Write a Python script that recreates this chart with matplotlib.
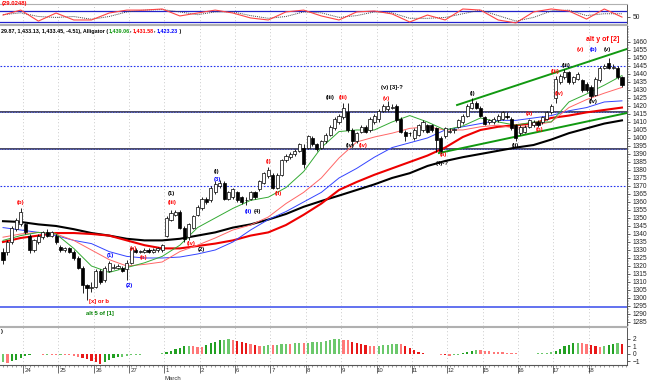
import matplotlib
matplotlib.use("Agg")
import matplotlib.pyplot as plt
from matplotlib.ticker import MultipleLocator, FixedLocator

plt.rcParams['font.family'] = ['Liberation Sans', 'DejaVu Sans']

# hourly candles: 5 bars before the first date, then 8 bars per session
opens = [1329, 1329, 1335, 1343, 1346,
         1346, 1339, 1330, 1335, 1338, 1341, 1339, 1339,
         1332, 1330, 1331, 1329, 1325, 1319, 1308, 1306,
         1307, 1317, 1311, 1317, 1319, 1319, 1319, 1318,
         1322, 1330, 1329, 1329, 1330, 1329, 1330, 1330,
         1339, 1349, 1352, 1354, 1344, 1338, 1344, 1352,
         1356, 1362, 1361, 1366, 1370, 1372, 1362, 1363,
         1366, 1363, 1361, 1362, 1366, 1368, 1372, 1376,
         1377, 1369, 1377, 1386, 1388, 1390, 1392, 1394,
         1394, 1400, 1396, 1394, 1398, 1402, 1406, 1410,
         1413, 1416, 1405, 1398, 1404, 1407, 1405, 1410,
         1412, 1417, 1418, 1419, 1420, 1412, 1404, 1403,
         1400, 1402, 1405, 1408, 1408, 1406, 1400, 1401,
         1404, 1405, 1407, 1410, 1414, 1419, 1422, 1419,
         1413, 1410, 1410, 1411, 1412, 1414, 1412, 1408,
         1403, 1404, 1407, 1408, 1410, 1410, 1412, 1416,
         1425, 1435, 1438, 1441, 1435, 1437, 1436, 1434,
         1432, 1427, 1436, 1444, 1447, 1444, 1444, 1438]
highs = [1331, 1336, 1345, 1350, 1356,
         1347, 1340, 1337, 1340, 1342, 1343, 1342, 1340,
         1333, 1332, 1332, 1330, 1326, 1320, 1309, 1310,
         1318, 1318, 1320, 1323, 1321, 1321, 1320, 1324,
         1332, 1331, 1330, 1331, 1331, 1331, 1332, 1334,
         1351, 1355, 1355, 1355, 1345, 1347, 1352, 1358,
         1363, 1363, 1370, 1373, 1374, 1373, 1367, 1369,
         1367, 1364, 1363, 1367, 1367, 1374, 1379, 1382,
         1378, 1378, 1387, 1390, 1391, 1393, 1397, 1396,
         1402, 1401, 1397, 1399, 1403, 1408, 1413, 1415,
         1422, 1422, 1406, 1404, 1408, 1408, 1413, 1415,
         1418, 1421, 1423, 1421, 1421, 1413, 1405, 1404,
         1406, 1409, 1411, 1409, 1409, 1407, 1401, 1407,
         1406, 1406, 1412, 1415, 1421, 1425, 1423, 1420,
         1414, 1412, 1413, 1415, 1417, 1416, 1413, 1409,
         1408, 1408, 1412, 1411, 1411, 1414, 1417, 1421,
         1439, 1440, 1443, 1442, 1439, 1441, 1437, 1435,
         1433, 1438, 1445, 1446, 1450, 1446, 1445, 1439]
lows = [1321, 1327, 1334, 1342, 1345,
        1340, 1328, 1329, 1334, 1337, 1338, 1338, 1334,
        1329, 1329, 1328, 1324, 1318, 1303, 1299, 1304,
        1306, 1309, 1310, 1316, 1318, 1318, 1316, 1311,
        1321, 1328, 1328, 1328, 1328, 1328, 1329, 1329,
        1338, 1348, 1351, 1343, 1335, 1336, 1343, 1351,
        1355, 1359, 1360, 1365, 1369, 1361, 1361, 1362,
        1360, 1359, 1358, 1361, 1362, 1367, 1371, 1375,
        1368, 1368, 1376, 1385, 1387, 1389, 1391, 1381,
        1393, 1395, 1392, 1393, 1397, 1401, 1405, 1409,
        1412, 1404, 1395, 1397, 1403, 1403, 1404, 1409,
        1410, 1416, 1417, 1418, 1410, 1403, 1398, 1401,
        1399, 1401, 1404, 1403, 1404, 1391, 1390, 1400,
        1403, 1403, 1406, 1409, 1413, 1418, 1418, 1413,
        1408, 1409, 1409, 1410, 1411, 1412, 1405, 1398,
        1402, 1403, 1406, 1407, 1407, 1409, 1411, 1415,
        1422, 1434, 1437, 1434, 1434, 1436, 1429, 1429,
        1424, 1426, 1435, 1443, 1443, 1443, 1437, 1432]
closes = [1324, 1335, 1344, 1349, 1354,
          1341, 1330, 1336, 1339, 1341, 1339, 1341, 1335,
          1330, 1331, 1329, 1325, 1319, 1308, 1306, 1307,
          1317, 1310, 1319, 1322, 1319, 1320, 1317, 1322,
          1331, 1329, 1329, 1330, 1329, 1330, 1331, 1333,
          1350, 1353, 1354, 1344, 1337, 1346, 1351, 1357,
          1362, 1360, 1369, 1371, 1372, 1362, 1366, 1368,
          1361, 1360, 1361, 1366, 1363, 1373, 1378, 1380,
          1369, 1377, 1386, 1389, 1390, 1392, 1396, 1384,
          1401, 1396, 1393, 1398, 1402, 1407, 1412, 1414,
          1419, 1405, 1398, 1403, 1407, 1404, 1412, 1414,
          1417, 1420, 1420, 1419, 1411, 1404, 1401, 1403,
          1405, 1408, 1410, 1404, 1405, 1399, 1392, 1406,
          1404, 1405, 1411, 1414, 1420, 1422, 1419, 1414,
          1409, 1411, 1412, 1414, 1416, 1413, 1406, 1400,
          1407, 1407, 1411, 1410, 1408, 1413, 1416, 1420,
          1437, 1439, 1441, 1435, 1438, 1440, 1430, 1430,
          1426, 1437, 1444, 1445, 1444, 1444, 1438, 1433]

day_labels = ["24", "25", "26", "27", "1", "2", "6", "7", "8",
              "9", "10", "11", "12", "15", "16", "17", "18"]

# moving averages read every 4th bar
ma_step = 4
lips = [1336, 1339, 1341, 1340, 1331, 1320, 1316, 1319, 1322, 1326, 1333, 1344,
        1350, 1356, 1361, 1363, 1369, 1379, 1394, 1404, 1405, 1405, 1410, 1414,
        1410, 1405, 1407.5, 1412.5, 1410, 1408, 1410, 1410, 1422.5, 1427.5, 1433, 1439]
teeth = [1338, 1340, 1341, 1340, 1336, 1330, 1324, 1320, 1321, 1322.5, 1329, 1333,
         1337.5, 1342.5, 1345.6, 1350.6, 1359, 1366, 1375, 1387.5, 1397.5, 1400.6, 1403, 1406,
         1407, 1405, 1405, 1407, 1408, 1406, 1408, 1410, 1419, 1424, 1428, 1431.6]
jaw = [1344, 1342.5, 1341, 1339, 1336, 1334, 1329, 1326, 1325, 1325, 1325.6, 1327.5,
       1330, 1335, 1342.5, 1349, 1354, 1360, 1366, 1375, 1381, 1388, 1394, 1397,
       1400, 1405, 1407, 1409, 1411, 1411, 1412.5, 1414, 1417, 1419, 1422.5, 1423.2]
ma_red = [1335, 1337.5, 1339, 1340.6, 1340.6, 1340, 1339, 1336, 1333, 1331, 1331, 1332.5,
          1334, 1336, 1339, 1341, 1345.6, 1352, 1359, 1367.5, 1372.5, 1377, 1381, 1385,
          1389, 1394, 1400.6, 1405, 1407, 1408, 1409, 1412.5, 1414, 1416, 1417.5, 1419]
ma_black = [1348, 1347.5, 1346, 1345, 1343, 1340.6, 1339, 1337, 1336, 1336, 1337, 1339,
            1341, 1344, 1346, 1349, 1352.5, 1357, 1360.6, 1364, 1367.5, 1371, 1375, 1378,
            1382.5, 1385.6, 1388, 1390, 1392, 1394, 1395.6, 1399, 1403, 1406, 1409, 1411]

# stochastic panel (same sampling)
stoch_k = [58, 85, 25, 69, 31, 31, 69, 85, 85, 91, 53, 69, 85, 69, 42, 31, 75, 85,
           53, 31, 75, 80, 64, 20, 58, 31, 91, 85, 31, 15, 75, 91, 80, 36, 91, 47]
stoch_d = [60, 70, 50, 45, 50, 35, 50, 75, 85, 88, 75, 60, 75, 75, 55, 40, 50, 75,
           70, 45, 55, 75, 70, 40, 40, 45, 65, 85, 55, 25, 45, 80, 85, 55, 65, 65]

# awesome oscillator, one value per bar
ao = [-1.1, -1.2, -0.95, -0.75, -0.55, -0.3, -0.1, 0.0, -0.05, -0.1, -0.08, -0.1,
      -0.15, -0.1, -0.15, -0.2, -0.25, -0.35, -0.5, -0.7, -0.9, -1.1, -1.3, -1.1,
      -0.85, -0.6, -0.45, -0.35, -0.3, -0.2, -0.15, -0.1, -0.05, -0.02, 0.02, 0.06,
      0.12, 0.25, 0.45, 0.65, 0.85, 1.0, 1.1, 1.0, 0.95, 0.9, 1.2, 1.45,
      1.65, 1.8, 1.9, 1.95, 1.9, 1.75, 1.55, 1.4, 1.3, 1.15, 1.05, 1.1,
      1.2, 1.15, 1.2, 1.3, 1.35, 1.3, 1.4, 1.45, 1.4, 1.5, 1.55, 1.6,
      1.65, 1.75, 1.85, 1.95, 2.0, 1.9, 1.8, 1.65, 1.5, 1.35, 1.2, 1.1,
      1.0, 1.1, 1.2, 1.25, 1.3, 1.35, 1.3, 1.1, 0.85, 0.55, 0.25, 0.08,
      0.05, 0.03, 0.0, -0.08, -0.2, -0.3, -0.2, -0.1, 0.1, 0.3, 0.45, 0.55,
      0.5, 0.4, 0.35, 0.3, 0.25, 0.2, 0.15, 0.1, 0.07, 0.03, 0.05, 0.04,
      0.06, 0.08, 0.1, 0.15, 0.25, 0.45, 0.7, 1.0, 1.2, 1.4, 1.5, 1.45,
      1.35, 1.2, 1.05, 0.95, 1.05, 1.2, 1.35, 1.45, 1.3]

# horizontal levels, channel lines and the small (a)-(b) guide
dotted_levels = [1445, 1370]
double_levels = [1416.25, 1393.1]
solid_levels = [1294.4]
channel_upper = [(102.7, 1420.6), (141.1, 1455.6)]
channel_lower = [(98.6, 1390.6), (141.1, 1415.6)]
ab_guide = [(31.0, 1328.8), (36.0, 1330.6)]

# wave labels: text, bar, price, colour
wave_labels = [
    ("(b)", 3.9, 1359.4, "red"), ("[x] or b", 21.8, 1297.5, "red"),
    ("alt 5 of [1]", 22.0, 1290, "green"), ("(1)", 24.3, 1326.3, "blue"),
    ("(2)", 28.6, 1308, "blue"), ("(a)", 29.5, 1331, "red"), ("(b)", 31.8, 1325.6, "red"),
    ("(1)", 38, 1365.6, "black"), ("(iii)", 38.2, 1359.4, "red"),
    ("(iv)", 42.5, 1333.8, "red"), ("(2)", 44.8, 1330, "black"),
    ("(i)", 48.4, 1378.8, "black"), ("(3)", 48.6, 1373.8, "blue"),
    ("(ii)", 55.5, 1353.8, "blue"), ("(4)", 57.5, 1353.8, "black"),
    ("(i)", 60, 1385, "red"), ("(ii)", 62.3, 1365.6, "red"),
    ("(iii)", 73.9, 1425, "black"), ("(iii)", 77, 1425, "red"),
    ("(iv)", 78.6, 1395.6, "black"), ("(iv)", 81.4, 1395, "red"),
    ("(v) [3]-?", 88, 1431.3, "black"), ("(v)", 86.8, 1424.4, "red"),
    ("(a)", 99.5, 1389.4, "red"), ("(4)-?", 99.3, 1383.8, "black"),
    ("(i)", 106.1, 1428.1, "black"), ("(ii)", 115.9, 1395, "black"),
    ("(a)", 119.1, 1415.6, "red"), ("(b)", 121.4, 1405.6, "red"),
    ("(iii)", 124.8, 1441.3, "red"), ("(iv)", 125.9, 1428.1, "red"),
    ("(iii)", 127.3, 1445.6, "black"), ("(iv)", 133.4, 1422.5, "black"),
    ("(v)", 130.5, 1455, "red"), ("(b)", 133.6, 1455, "blue"), ("(v)", 136.6, 1455, "black"),
]

W, H = 650, 382
fig = plt.figure(figsize=(W / 100, H / 100), dpi=100)


def px_axes(top, bottom, right=627):
    return fig.add_axes([0, 1 - bottom / H, right / W, (bottom - top) / H])


ax_osc = px_axes(4, 24)
ax = px_axes(25, 326)
ax_ao = px_axes(327, 365)

n = len(closes)
bars = list(range(n))
ma_x = list(range(0, n, ma_step))
day_ticks = [5 + 8 * k for k in range(len(day_labels))]
xlim = (-0.68, 141.14)

for a in (ax_osc, ax, ax_ao):
    a.set_xlim(*xlim)
    a.set_facecolor("white")
    a.spines["left"].set_visible(False)
    for s in ("top", "bottom"):
        a.spines[s].set_color("#b0b0b0")
        a.spines[s].set_linewidth(0.8)
    a.spines["right"].set_color("#555555")
    a.spines["right"].set_linewidth(0.7)
    a.yaxis.tick_right()
    a.tick_params(axis="y", labelsize=4.8, length=2, width=0.5, pad=2, colors="#222222")
    a.tick_params(axis="x", bottom=False, labelbottom=False)
    for t in day_ticks:
        a.axvline(t - 0.5, color="#b8b8b8", lw=0.6, ls=(0, (1, 3)), zorder=0)

# --- main price panel ---
ax.set_ylim(1282.5, 1470.6)
ax.yaxis.set_major_locator(FixedLocator(list(range(1285, 1465, 5))))
ax.yaxis.set_minor_locator(MultipleLocator(1))
ax.tick_params(axis="y", which="minor", length=1, width=0.4, colors="#555555")
ax.set_yticklabels([str(v) for v in range(1285, 1465, 5)])

for lv in dotted_levels:
    ax.axhline(lv, color="#2233ee", lw=0.8, ls=(0, (1.5, 1.5)), zorder=1)
for lv in double_levels:
    ax.axhline(lv, color="#3a3a5a", lw=1.3, zorder=1)
    ax.axhline(lv, color="#6677ff", lw=0.5, ls=(0, (2, 2)), zorder=1)
for lv in solid_levels:
    ax.axhline(lv, color="#5566ee", lw=1.3, zorder=1)

ax.plot(ma_x, ma_black, color="black", lw=1.5, zorder=2)
ax.plot(ma_x, ma_red, color="#ee0000", lw=1.5, zorder=2)
ax.plot(ma_x, jaw, color="#3344ff", lw=0.7, zorder=2)
ax.plot(ma_x, teeth, color="#ff6666", lw=0.7, zorder=2)
ax.plot(ma_x, lips, color="#33aa33", lw=0.7, zorder=2)

for seg in (channel_upper, channel_lower):
    ax.plot([p[0] for p in seg], [p[1] for p in seg], color="#119911", lw=1.4, zorder=3)
ax.plot([p[0] for p in ab_guide], [p[1] for p in ab_guide], color="black", lw=0.7,
        ls=(0, (2, 1.5)), zorder=3)

body_w = 0.7
ax.vlines(bars, lows, highs, color="black", lw=0.6, zorder=4)
for i in bars:
    o, c = opens[i], closes[i]
    lo = min(o, c)
    h = max(abs(c - o), 0.35)
    fc = "white" if c >= o else "black"
    ax.bar(i, h, bottom=lo, width=body_w, facecolor=fc, edgecolor="black", lw=0.5, zorder=5)

for txt, bx, py, col in wave_labels:
    ax.text(bx, py, txt, color=col, fontsize=4.2, fontweight="bold",
            ha="center", va="center", zorder=6)
ax.text(135.7, 1461.3, "alt y of [2]", color="red", fontsize=5, fontweight="bold",
        ha="center", va="center", zorder=6)

# header line with coloured alligator values
renderer = fig.canvas.get_renderer()
parts = [("29.87, 1,433.13, 1,433.45, -4.51), Alligator (", "black"),
         ("1,439.06", "#119911"), (", ", "black"), ("1,431.58", "red"),
         (", ", "black"), ("1,423.23", "blue"), (" )", "black")]
x0 = 1.0 / W
for txt, col in parts:
    t = fig.text(x0, 1 - 31 / H, txt, color=col, fontsize=3.9, fontweight="bold",
                 va="center", ha="left")
    bb = t.get_window_extent(renderer)
    x0 += bb.width / W

fig.text(2 / W, 1 - 3 / H, "(29.0248)", color="red", fontsize=4.2, fontweight="bold",
         va="center", ha="left")

# --- stochastic panel ---
ax_osc.set_ylim(9.1, 118.2)
ax_osc.set_yticks([50])
ax_osc.axhline(80, color="#2222cc", lw=0.9)
ax_osc.axhline(20, color="#2222cc", lw=0.9)
ax_osc.plot(ma_x, stoch_d, color="#444444", lw=0.7, ls=(0, (1, 1)))
ax_osc.plot(ma_x, stoch_k, color="#ff4444", lw=0.8)

# --- awesome oscillator panel ---
ax_ao.set_ylim(-1.47, 3.6)
ax_ao.set_yticks([-1, 0, 1, 2])
ao_colors = []
for i, v in enumerate(ao):
    prev = ao[i - 1] if i > 0 else v
    up = v >= prev
    strong = abs(v - prev) > 0.12
    if up:
        ao_colors.append("#22a022" if strong else "#6cc86c")
    else:
        ao_colors.append("#e81818" if strong else "#ff7878")
ax_ao.bar(list(range(len(ao))), ao, width=0.5, color=ao_colors, zorder=2)
fig.text(1 / W, 1 - 331 / H, ")", fontsize=4, fontweight="bold", va="center")

# date axis
ax_ao.spines["bottom"].set_color("#555555")
ax_ao.tick_params(axis="x", bottom=True, which="both", direction="out", colors="#555555")
ax_ao.set_xticks([t - 0.5 for t in day_ticks])
ax_ao.xaxis.set_minor_locator(MultipleLocator(1))
ax_ao.tick_params(axis="x", which="major", length=6, width=0.6)
ax_ao.tick_params(axis="x", which="minor", length=1.5, width=0.4)
for t, lab in zip(day_ticks, day_labels):
    fig.text((3 + 4.4 * (t - 0.5) + 2) / W, 1 - 371 / H, lab, fontsize=4.3,
             color="#333333", va="center", ha="left")
fig.text((3 + 4.4 * (day_ticks[4] - 0.5) + 1) / W, 1 - 378 / H, "March", fontsize=4.3,
         color="#333333", va="center", ha="left")

fig.savefig("out.png", dpi=100)
